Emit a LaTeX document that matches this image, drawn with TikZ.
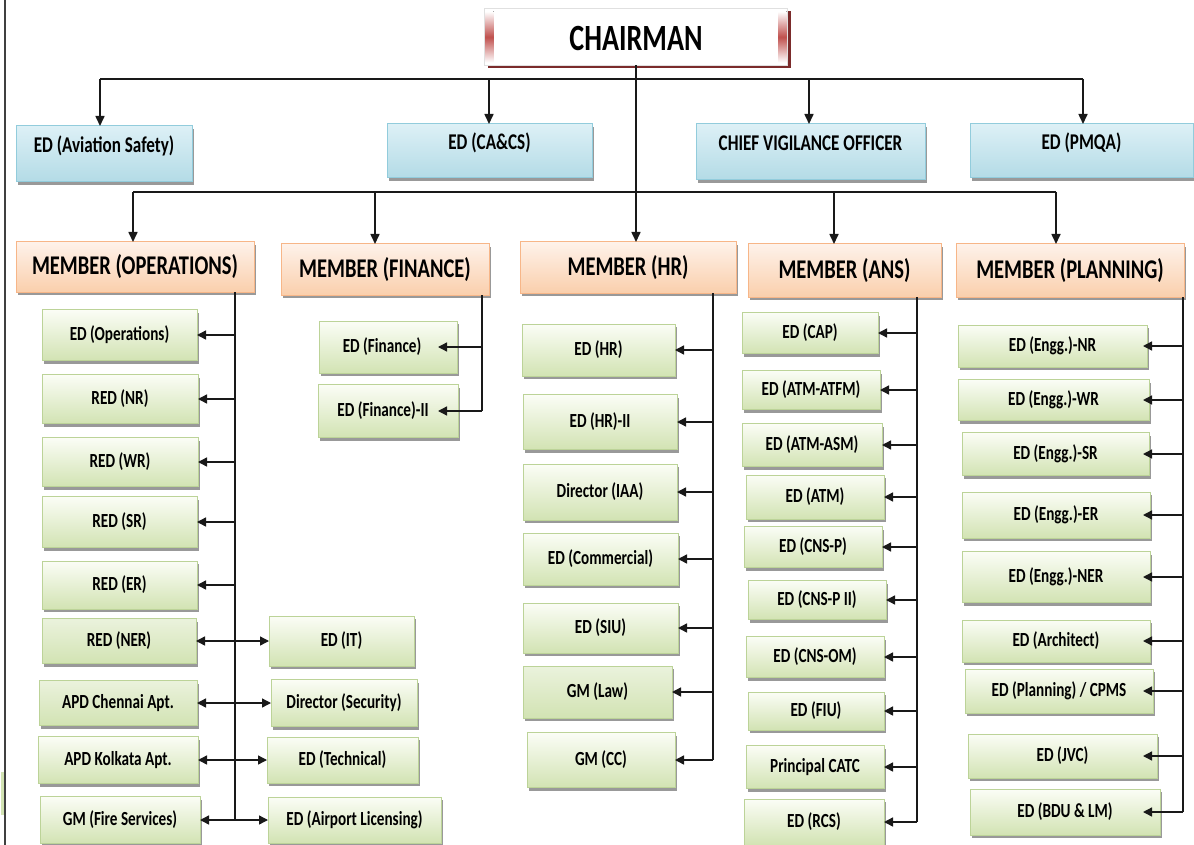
\documentclass[tikz,border=0pt]{standalone}
\usepackage{fontspec}
\newfontfamily\cf[FakeStretch=0.76]{Carlito}
\usetikzlibrary{arrows.meta,shadows,calc}
\definecolor{gtop}{HTML}{FBFDF6}
\definecolor{gbot}{HTML}{D2E3B3}
\definecolor{gbrd}{HTML}{BCD398}
\definecolor{btop}{HTML}{DDF0F6}
\definecolor{bbot}{HTML}{B3DBE6}
\definecolor{bbrd}{HTML}{92CCDC}
\definecolor{otop}{HTML}{FEF2EA}
\definecolor{obot}{HTML}{FACFAC}
\definecolor{obrd}{HTML}{F7B688}
\definecolor{dred}{HTML}{7B2B2B}
\definecolor{rbar}{HTML}{C0504D}
\tikzset{
  basebox/.style={rectangle, outer sep=0pt, inner sep=2pt, line width=1pt, align=center, text=black},
  gbox/.style={basebox, draw=gbrd, top color=gtop, bottom color=gbot,
     drop shadow={shadow xshift=2pt, shadow yshift=-3pt, fill=black!40, opacity=1},
     font=\cf\bfseries\fontsize{20}{22}\selectfont},
  gflat/.style={gbox, top color=gbot!45, bottom color=gbot},
  bbox/.style={basebox, draw=bbrd, top color=btop, bottom color=bbot,
     drop shadow={shadow xshift=2pt, shadow yshift=-3pt, fill=black!40, opacity=1},
     font=\cf\bfseries\fontsize{22.5}{24}\selectfont, text height=14pt, text depth=17pt},
  obox/.style={basebox, draw=obrd, top color=otop, bottom color=obot,
     drop shadow={shadow xshift=2pt, shadow yshift=-3pt, fill=black!40, opacity=1},
     font=\cf\bfseries\fontsize{27}{29}\selectfont},
  chairbox/.style={basebox, draw=black!12, fill=white,
     drop shadow={shadow xshift=3pt, shadow yshift=-3pt, fill=dred, opacity=1}},
  bus/.style={line width=1.6pt, black!90},
  conn/.style={line width=1.4pt, black!90},
  arr/.style={conn, -{Triangle[length=9pt,width=9pt]}},
  darr/.style={conn, {Triangle[length=9pt,width=9pt]}-{Triangle[length=9pt,width=9pt]}},
  barr/.style={bus, -{Triangle[length=10pt,width=9pt]}},
}
\begin{document}
\begin{tikzpicture}[x=1pt,y=-1pt]
\useasboundingbox (0,0) rectangle (1194,845);
% page edge line and sliver
\draw[line width=1.5pt, black!75] (5,0) -- (5,845);
\fill[gbot] (0.5,772) rectangle (3.5,815);

% Chairman
\node[chairbox, minimum width=303pt, minimum height=57pt] (chair) at (636,37) {};
\fill[shading=axis, top color=white, bottom color=white, middle color=rbar] ($(chair.north west)+(1,3)$) rectangle ($(chair.south west)+(9,-3)$);
\fill[shading=axis, top color=white, bottom color=white, middle color=rbar] ($(chair.north east)+(-9,3)$) rectangle ($(chair.south east)+(-1,-3)$);
\node[font=\cf\bfseries\fontsize{37}{39}\selectfont, text=black] (chairtxt) at ([yshift=-1pt]chair.center) {CHAIRMAN};

% Row 1 (blue)
\node[bbox, anchor=north west, minimum width=176pt, minimum height=56pt] (asafe) at (16,126) {ED (Aviation Safety)};
\node[bbox, anchor=north west, minimum width=205pt, minimum height=54pt] (cacs) at (387,124) {ED (CA\&CS)};
\node[bbox, anchor=north west, minimum width=229pt, minimum height=56pt] (cvo) at (696,124) {CHIEF VIGILANCE OFFICER};
\node[bbox, anchor=north west, minimum width=223pt, minimum height=54pt] (pmqa) at (970,124) {ED (PMQA)};

% Members (orange)
\node[obox, anchor=north west, minimum width=238pt, minimum height=50pt] (mops) at (16,242) {MEMBER (OPERATIONS)};
\node[obox, anchor=north west, minimum width=208pt, minimum height=51pt] (mfin) at (281,244) {MEMBER (FINANCE)};
\node[obox, anchor=north west, minimum width=216pt, minimum height=51pt] (mhr) at (520,242) {MEMBER (HR)};
\node[obox, anchor=north west, minimum width=193pt, minimum height=53pt] (mans) at (748,244) {MEMBER (ANS)};
\node[obox, anchor=north west, minimum width=228pt, minimum height=53pt] (mplan) at (956,244) {MEMBER (PLANNING)};

% Top connectors
\coordinate (t1) at (100,79);
\coordinate (t2) at (489,79);
\coordinate (t3) at (809,79);
\coordinate (t4) at (1083,79);
\draw[bus] (t1) -- (t4);
\draw[barr] (t1) -- (t1 |- asafe.north);
\draw[barr] (t2) -- (t2 |- cacs.north);
\draw[barr] (t3) -- (t3 |- cvo.north);
\draw[barr] (t4) -- (t4 |- pmqa.north);
\coordinate (m1) at (133,192);
\coordinate (m2) at (375,192);
\coordinate (m4) at (834,192);
\coordinate (m5) at (1056,192);
\draw[bus] (m1) -- (m5);
\draw[barr] (chair.south) -- (chair.south |- mhr.north);
\draw[barr] (m1) -- (m1 |- mops.north);
\draw[barr] (m2) -- (m2 |- mfin.north);
\draw[barr] (m4) -- (m4 |- mans.north);
\draw[barr] (m5) -- (m5 |- mplan.north);

% Operations column
\node[gbox, anchor=west, minimum width=155pt, minimum height=51pt] (edops) at (42,335) {ED (Operations)};
\node[gbox, anchor=west, minimum width=156pt, minimum height=49pt] (rednr) at (42,399) {RED (NR)};
\node[gbox, anchor=west, minimum width=156pt, minimum height=49pt] (redwr) at (42,462) {RED (WR)};
\node[gbox, anchor=west, minimum width=155pt, minimum height=51pt] (redsr) at (42,522) {RED (SR)};
\node[gbox, anchor=west, minimum width=155pt, minimum height=48pt] (reder) at (42,585) {RED (ER)};
\node[gflat, anchor=west, minimum width=154pt, minimum height=45pt] (redner) at (42,641) {RED (NER)};
\node[gflat, anchor=west, minimum width=158pt, minimum height=45pt] (apdch) at (39,703) {APD Chennai Apt.};
\node[gbox, anchor=west, minimum width=160pt, minimum height=47pt] (apdko) at (38,760) {APD Kolkata Apt.};
\node[gbox, anchor=west, minimum width=160pt, minimum height=47pt] (gmfire) at (40,820) {GM (Fire Services)};
\node[gbox, anchor=west, minimum width=145pt, minimum height=50pt] (edit) at (269,641) {ED (IT)};
\node[gbox, anchor=west, minimum width=146pt, minimum height=47pt] (dirsec) at (271,703) {Director (Security)};
\node[gbox, anchor=west, minimum width=151pt, minimum height=46pt] (edtech) at (267,760) {ED (Technical)};
\node[gbox, anchor=west, minimum width=173pt, minimum height=46pt] (edlic) at (268,820) {ED (Airport Licensing)};
\coordinate (ov) at (235,820);
\draw[conn] (mops.south -| ov) -- (ov);
\foreach \b in {edops,rednr,redwr,redsr,reder}
  \draw[arr] (ov |- \b.east) -- (\b.east);
\draw[darr] (redner.east) -- (redner.east -| edit.west);
\draw[darr] (apdch.east) -- (apdch.east -| dirsec.west);
\draw[darr] (apdko.east) -- (apdko.east -| edtech.west);
\draw[darr] (gmfire.east) -- (gmfire.east -| edlic.west);

% Finance column
\node[gbox, anchor=west, minimum width=138pt, minimum height=52pt] (edfin) at (319,347) {ED (Finance)\hspace{12pt}};
\node[gbox, anchor=west, minimum width=140pt, minimum height=53pt] (edfin2) at (318,411) {ED (Finance)-II\hspace{10pt}};
\coordinate (fv) at (482,411);
\draw[conn] (mfin.south -| fv) -- (fv);
\draw[arr] (fv |- edfin.east) -- ([xshift=-19pt]edfin.east);
\draw[arr] (fv) -- ([xshift=-20pt]edfin2.east);

% HR column
\node[gbox, anchor=west, minimum width=153pt, minimum height=52pt] (edhr) at (522,350) {ED (HR)};
\node[gbox, anchor=west, minimum width=154pt, minimum height=55pt] (edhr2) at (523,422) {ED (HR)-II};
\node[gbox, anchor=west, minimum width=154pt, minimum height=56pt] (diriaa) at (523,492) {Director (IAA)};
\node[gbox, anchor=west, minimum width=155pt, minimum height=52pt] (edcom) at (523,559) {ED (Commercial)};
\node[gbox, anchor=west, minimum width=155pt, minimum height=50pt] (edsiu) at (523,628) {ED (SIU)};
\node[gflat, anchor=west, minimum width=149pt, minimum height=52pt] (gmlaw) at (523,692) {GM (Law)};
\node[gbox, anchor=west, minimum width=148pt, minimum height=55pt] (gmcc) at (527,760) {GM (CC)};
\coordinate (hv) at (713,760);
\draw[conn] (mhr.south -| hv) -- (hv);
\foreach \b in {edhr,edhr2,diriaa,edcom,edsiu,gmlaw,gmcc}
  \draw[arr] (hv |- \b.east) -- (\b.east);

% ANS column
\node[gbox, anchor=west, minimum width=136pt, minimum height=41pt] (edcap) at (742,333) {ED (CAP)};
\node[gbox, anchor=west, minimum width=138pt, minimum height=39pt] (edatfm) at (742,390) {ED (ATM-ATFM)};
\node[gbox, anchor=west, minimum width=140pt, minimum height=43pt] (edasm) at (742,445) {ED (ATM-ASM)};
\node[gbox, anchor=west, minimum width=138pt, minimum height=44pt] (edatm) at (746,497) {ED (ATM)};
\node[gbox, anchor=west, minimum width=138pt, minimum height=41pt] (edcnsp) at (744,547) {ED (CNS-P)};
\node[gbox, anchor=west, minimum width=138pt, minimum height=39pt] (edcnsp2) at (748,600) {ED (CNS-P II)};
\node[gbox, anchor=west, minimum width=138pt, minimum height=41pt] (edcnsom) at (746,657) {ED (CNS-OM)};
\node[gbox, anchor=west, minimum width=136pt, minimum height=38pt] (edfiu) at (748,711) {ED (FIU)};
\node[gbox, anchor=west, minimum width=138pt, minimum height=43pt] (pcatc) at (746,767) {Principal CATC};
\node[gbox, anchor=west, minimum width=140pt, minimum height=46pt] (edrcs) at (744,822) {ED (RCS)};
\coordinate (av) at (917,822);
\draw[conn] (mans.south -| av) -- (av);
\foreach \b in {edcap,edatfm,edasm,edatm,edcnsp,edcnsp2,edcnsom,edfiu,pcatc,edrcs}
  \draw[arr] (av |- \b.east) -- (\b.east);

% Planning column
\node[gbox, anchor=west, minimum width=189pt, minimum height=42pt] (edenr) at (958,346) {ED (Engg.)-NR};
\node[gbox, anchor=west, minimum width=191pt, minimum height=41pt] (edewr) at (958,400) {ED (Engg.)-WR};
\node[gbox, anchor=west, minimum width=187pt, minimum height=43pt] (edesr) at (962,454) {ED (Engg.)-SR};
\node[gbox, anchor=west, minimum width=188pt, minimum height=46pt] (edeer) at (962,515) {ED (Engg.)-ER};
\node[gbox, anchor=west, minimum width=188pt, minimum height=51pt] (edener) at (962,577) {ED (Engg.)-NER};
\node[gbox, anchor=west, minimum width=188pt, minimum height=42pt] (edarch) at (962,641) {ED (Architect)};
\node[gbox, anchor=west, minimum width=188pt, minimum height=44pt] (edplan) at (965,691) {ED (Planning) / CPMS};
\node[gbox, anchor=west, minimum width=189pt, minimum height=44pt] (edjvc) at (968,756) {ED (JVC)};
\node[gbox, anchor=west, minimum width=190pt, minimum height=46pt] (edbdu) at (970,812) {ED (BDU \& LM)};
\coordinate (pv) at (1183,812);
\coordinate (ptip) at (1143,0);
\draw[conn] (mplan.south -| pv) -- (pv);
\foreach \b in {edenr,edewr,edesr,edeer,edener,edarch,edplan,edjvc,edbdu}
  \draw[arr] (pv |- \b.east) -- (ptip |- \b.east);
\end{tikzpicture}
\end{document}
